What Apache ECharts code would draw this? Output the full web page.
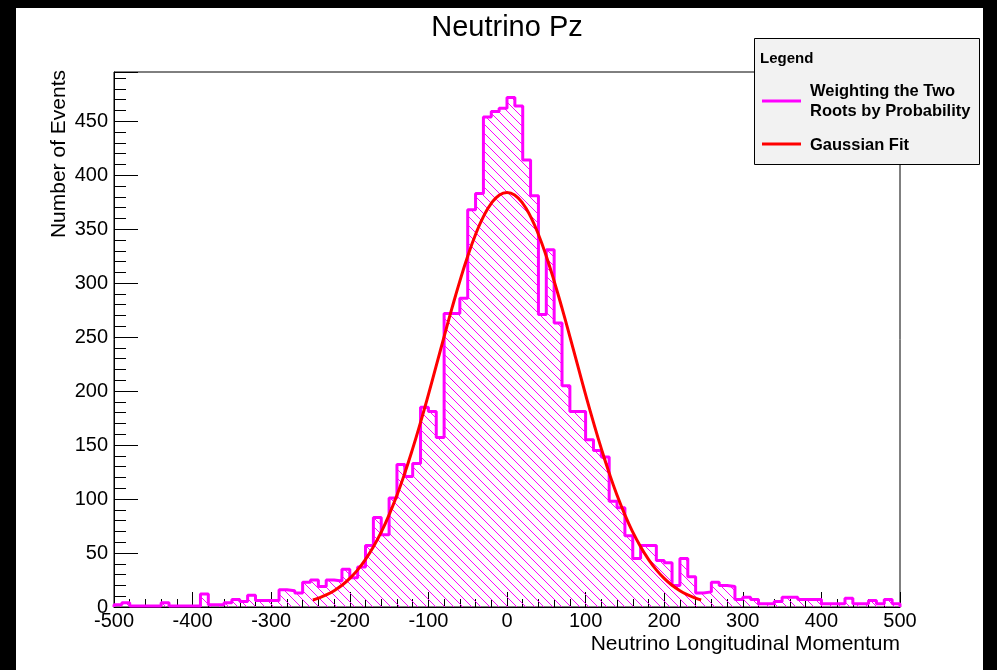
<!DOCTYPE html>
<html>
<head>
<meta charset="utf-8">
<script src="https://cdn.jsdelivr.net/npm/echarts@6/dist/echarts.min.js"></script>
<style>
  html, body { margin: 0; padding: 0; background: #000; width: 997px; height: 670px; overflow: hidden; }
  #paper { position: absolute; left: 16px; top: 8px; width: 967px; height: 662px; background: #fff; }
  #chart { position: absolute; left: 0; top: 0; width: 997px; height: 670px; }
</style>
</head>
<body>
<div id="paper"></div>
<div id="chart"></div>
<script>
// Labels
const chartTitle = 'Neutrino Pz';
const xTitle = 'Neutrino Longitudinal Momentum';
const yTitle = 'Number of Events';
const legendHeader = 'Legend';
const histLabel = ['Weighting the Two', 'Roots by Probability'];
const fitLabel = 'Gaussian Fit';

// Histogram: 100 bins of width 10 from -500 to 500
const binLow = -500;
const binWidth = 10;
const counts = [
  2, 4, 1, 1, 1, 1, 4, 1, 1, 1,          // -500 .. -410
  1, 12, 2, 2, 4, 7, 5, 11, 6, 6,        // -400 .. -310
  6, 16, 15, 13, 23, 25, 19, 25, 24, 35, // -300 .. -210
  27, 37, 57, 83, 67, 101, 132, 121, 133, 185, // -200 .. -110
  181, 157, 272, 272, 286, 368, 383, 454, 459, 462, // -100 .. -10
  472, 464, 414, 381, 271, 331, 263, 205, 181, 181, // 0 .. 90
  155, 145, 139, 98, 92, 66, 45, 57, 57, 43,  // 100 .. 190
  41, 20, 45, 28, 13, 14, 23, 20, 19, 7,      // 200 .. 290
  9, 7, 3, 3, 5, 9, 9, 7, 7, 7,               // 300 .. 390
  3, 3, 3, 8, 3, 3, 6, 3, 7, 3                // 400 .. 490
];

// Gaussian fit curve, sampled over its fit range
const fitX = [-247, -240, -230, -220, -210, -200, -190, -180, -170, -160, -150, -140, -130,
  -120, -110, -100, -90, -80, -70, -60, -50, -40, -30, -20, -10, 0,
  10, 20, 30, 40, 50, 60, 70, 80, 90, 100, 110, 120, 130, 140, 150,
  160, 170, 180, 190, 200, 210, 220, 230, 240, 247];
const fitY = [6.5, 8.2, 11.2, 15.1, 20.2, 26.5, 34.4, 44.1, 55.7, 69.4, 85.4, 103.6, 124.1,
  146.7, 171.1, 196.8, 223.5, 250.4, 276.8, 301.9, 324.9, 345.1, 361.6, 373.9, 381.4, 384,
  381.4, 373.9, 361.6, 345.1, 324.9, 301.9, 276.8, 250.4, 223.5, 196.8, 171.1, 146.7, 124.1, 103.6, 85.4,
  69.4, 55.7, 44.1, 34.4, 26.5, 20.2, 15.1, 11.2, 8.2, 6.5];

const font = '"Liberation Sans", Arial, Helvetica, sans-serif';

// Diagonal hatch tile for the histogram fill
const tile = 9;
const hatch = document.createElement('canvas');
hatch.width = tile; hatch.height = tile;
const hg = hatch.getContext('2d');
hg.strokeStyle = '#ff00ff';
hg.lineWidth = 1;
hg.beginPath();
hg.moveTo(0, 0); hg.lineTo(tile, tile);
hg.moveTo(-2, tile - 2); hg.lineTo(2, tile + 2);
hg.moveTo(tile - 2, -2); hg.lineTo(tile + 2, 2);
hg.stroke();

// Step outline: one point per bin low edge, closed down to zero at both ends
const histData = [[binLow, 0]];
counts.forEach((c, i) => histData.push([binLow + i * binWidth, c]));
const binHigh = binLow + counts.length * binWidth;
histData.push([binHigh, counts[counts.length - 1]]);
histData.push([binHigh, 0]);

const fitData = fitX.map((x, i) => [x, fitY[i]]);

const chart = echarts.init(document.getElementById('chart'), null, { renderer: 'canvas' });

const axisText = { color: '#000', fontSize: 20, fontFamily: font };

chart.setOption({
  animation: false,
  backgroundColor: 'transparent',
  grid: { left: 114, right: 97, top: 72, bottom: 63, show: true, borderColor: '#000', borderWidth: 1, backgroundColor: 'transparent' },
  xAxis: {
    type: 'value', min: -500, max: 500, interval: 100,
    axisLine: { show: true, onZero: false, lineStyle: { color: '#000', width: 1 } },
    axisTick: { show: true, inside: true, length: 15, lineStyle: { color: '#000', width: 1 } },
    minorTick: { show: true, splitNumber: 5, length: 8, lineStyle: { color: '#000', width: 1 } },
    axisLabel: Object.assign({ margin: 4 }, axisText),
    splitLine: { show: false }
  },
  yAxis: {
    type: 'value', min: 0, max: 495.6, interval: 50,
    axisLine: { show: true, onZero: false, lineStyle: { color: '#000', width: 1 } },
    axisTick: { show: true, inside: true, length: 24, lineStyle: { color: '#000', width: 1 } },
    minorTick: { show: true, splitNumber: 5, length: 12, lineStyle: { color: '#000', width: 1 } },
    axisLabel: Object.assign({ margin: 6, showMaxLabel: false }, axisText),
    splitLine: { show: false }
  },
  series: [
    {
      name: histLabel.join(' '),
      type: 'line', step: 'end', data: histData, symbol: 'none', silent: true,
      lineStyle: { color: '#ff00ff', width: 3 },
      areaStyle: { color: { image: hatch, repeat: 'repeat' }, opacity: 1 },
      z: 2
    },
    {
      name: fitLabel,
      type: 'line', data: fitData, smooth: true, symbol: 'none', silent: true,
      lineStyle: { color: '#ff0000', width: 3 },
      z: 3
    }
  ],
  graphic: [
    { type: 'text', x: 507, y: 28, style: { text: chartTitle, fontSize: 29, fontFamily: font, fill: '#000', align: 'center', verticalAlign: 'middle' } },
    { type: 'text', x: 900, y: 644, style: { text: xTitle, fontSize: 21, fontFamily: font, fill: '#000', align: 'right', verticalAlign: 'middle' } },
    { type: 'text', x: 59, y: 70, rotation: Math.PI / 2, style: { text: yTitle, fontSize: 21, fontFamily: font, fill: '#000', align: 'right', verticalAlign: 'middle' } },
    // legend box
    { type: 'rect', z: 100, shape: { x: 754.5, y: 38.5, width: 225, height: 126 }, style: { fill: '#f2f2f2', stroke: '#000', lineWidth: 1 } },
    { type: 'text', z: 101, x: 760, y: 59, style: { text: legendHeader, fontSize: 15, fontWeight: 'bold', fontFamily: font, fill: '#000', align: 'left', verticalAlign: 'middle' } },
    { type: 'line', z: 101, shape: { x1: 762, y1: 101, x2: 801, y2: 101 }, style: { stroke: '#ff00ff', lineWidth: 3 } },
    { type: 'text', z: 101, x: 810, y: 91, style: { text: histLabel[0], fontSize: 16.5, fontWeight: 'bold', fontFamily: font, fill: '#000', align: 'left', verticalAlign: 'middle' } },
    { type: 'text', z: 101, x: 810, y: 111, style: { text: histLabel[1], fontSize: 16.5, fontWeight: 'bold', fontFamily: font, fill: '#000', align: 'left', verticalAlign: 'middle' } },
    { type: 'line', z: 101, shape: { x1: 762, y1: 144, x2: 801, y2: 144 }, style: { stroke: '#ff0000', lineWidth: 3 } },
    { type: 'text', z: 101, x: 810, y: 145, style: { text: fitLabel, fontSize: 16.5, fontWeight: 'bold', fontFamily: font, fill: '#000', align: 'left', verticalAlign: 'middle' } }
  ]
});
</script>
</body>
</html>
